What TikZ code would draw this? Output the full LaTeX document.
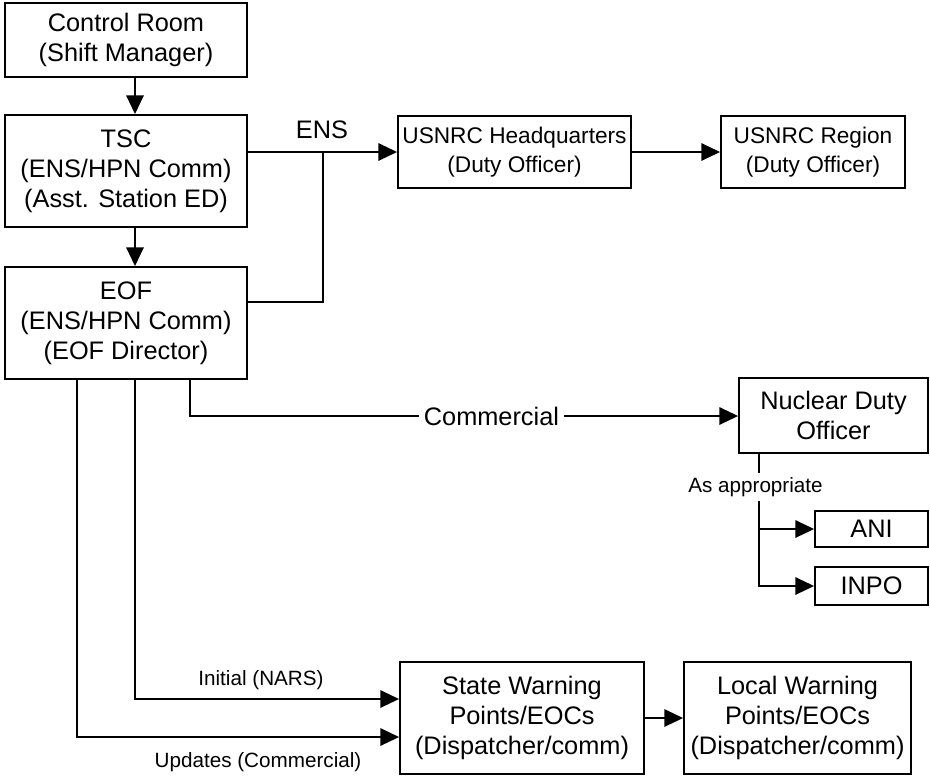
\documentclass[tikz,border=0pt]{standalone}
\usepackage{fontspec}
\setmainfont{Liberation Sans}
\usetikzlibrary{arrows.meta,positioning,calc}

\begin{document}
\begin{tikzpicture}[x=0.75pt, y=-0.75pt, >={Triangle[length=14pt,width=13pt]}, line width=1.4pt,
    box/.style={draw, line width=1.4pt, inner sep=0pt, align=center, font=\fontsize{19}{22.5}\selectfont},
    lbl/.style={inner sep=1pt, font=\fontsize{15.5}{18}\selectfont}]
  \useasboundingbox (0,0) rectangle (930,775);
  % left column
  \node[box, minimum width=181.5pt, minimum height=55.5pt] (cr) at (126,40) {Control Room\\(Shift Manager)};
  \node[box, minimum width=181.5pt, minimum height=84pt] (tsc) at (126,171) {TSC\\(ENS/HPN Comm)\\(Asst. Station ED)};
  \node[box, minimum width=181.5pt, minimum height=84pt] (eof) at (126,323) {EOF\\(ENS/HPN Comm)\\(EOF Director)};
  % NRC
  \node[box, minimum width=174.75pt, minimum height=54pt, font=\fontsize{17}{21.5}\selectfont] (hq) at (514.5,152) {USNRC Headquarters\\(Duty Officer)};
  \node[box, minimum width=138pt, minimum height=54pt, font=\fontsize{17}{21.5}\selectfont] (reg) at (813,152) {USNRC Region\\(Duty Officer)};
  % commercial
  \node[box, minimum width=141.75pt, minimum height=56.25pt] (ndo) at (833.5,415.5) {Nuclear Duty\\Officer};
  \node[box, minimum width=84.75pt, minimum height=27pt] (ani) at (871.5,529) {ANI};
  \node[box, minimum width=84.75pt, minimum height=28.5pt] (inpo) at (871.5,586) {INPO};
  % warning points
  \node[box, minimum width=183pt, minimum height=84pt] (swp) at (522,718) {State Warning\\Points/EOCs\\(Dispatcher/comm)};
  \node[box, minimum width=170.25pt, minimum height=84pt] (lwp) at (797.5,718) {Local Warning\\Points/EOCs\\(Dispatcher/comm)};

  \coordinate (ensj) at (323,152);
  \coordinate (ensb) at (323,302);
  \coordinate (comm) at (190,416);
  \coordinate (app) at (759,586);
  \coordinate (ini) at (135,699);
  \coordinate (upd) at (77,737);

  \draw[->] ([xshift=6.75pt]cr.south) -- ([xshift=6.75pt]tsc.north);
  \draw[->] ([xshift=6.75pt]tsc.south) -- ([xshift=6.75pt]eof.north);
  \draw[->] (tsc.east |- ensj) -- (hq.west);
  \draw (eof.east |- ensb) -- (ensb) -- (ensj);
  \node[lbl, font=\fontsize{19}{20}\selectfont] (ens) at (322,130) {ENS};
  \draw[->] (hq.east) -- (reg.west);

  \draw[->] (comm |- eof.south) -- (comm) -- node[pos=0.55, fill=white, inner sep=4pt, font=\fontsize{19}{22}\selectfont] (cl) {Commercial} (ndo.west |- comm);
  \draw[->] (app |- ndo.south) -- (app) -- (inpo.west);
  \draw[->] (app |- ani.west) -- (ani.west);
  \node[lbl, fill=white, inner sep=3pt] (asap) at (755.5,487) {As appropriate};

  \draw[->] (ini |- eof.south) -- (ini) -- (swp.west |- ini);
  \draw[->] (upd |- eof.south) -- (upd) -- (swp.west |- upd);
  \node[lbl] (inil) at (261,680) {Initial (NARS)};
  \node[lbl] (updl) at (258,762) {Updates (Commercial)};
  \draw[->] (swp.east) -- (lwp.west);
\end{tikzpicture}
\end{document}
